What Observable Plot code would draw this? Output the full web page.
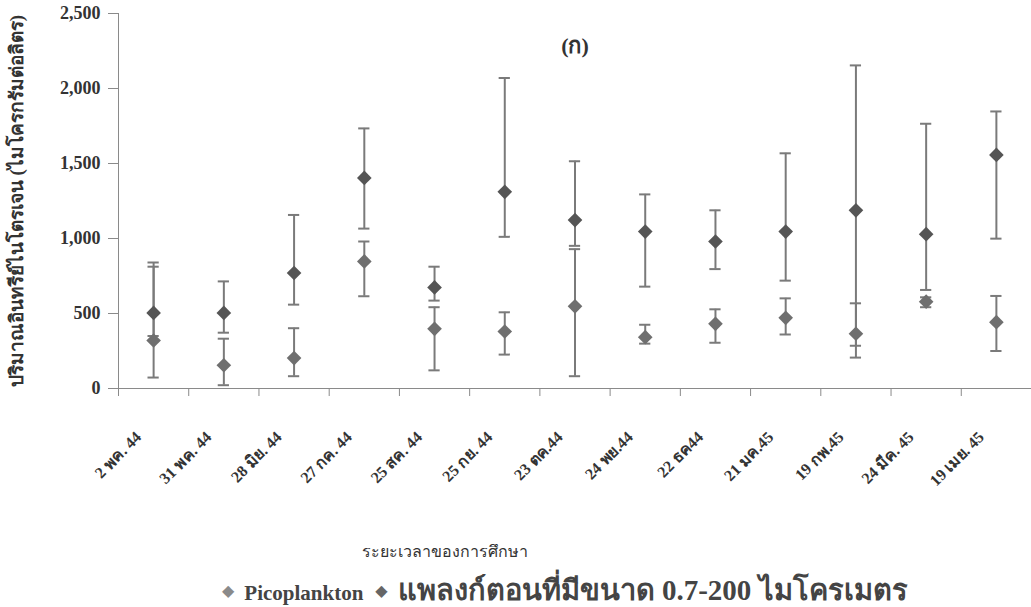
<!DOCTYPE html>
<html>
<head>
<meta charset="utf-8">
<script src="https://cdn.jsdelivr.net/npm/d3@7"></script>
<script src="https://cdn.jsdelivr.net/npm/@observablehq/plot@0.6"></script>
<style>
  html, body { margin: 0; padding: 0; background: #fff; }
  body { width: 1031px; height: 607px; overflow: hidden; font-family: "Liberation Serif", "DejaVu Serif", serif; position: relative; }
  #legend { position: absolute; left: 222px; top: 575px; height: 32px; line-height: 30px; white-space: nowrap; font-weight: bold; color: #444; display: flex; align-items: baseline; }
  #legend span.sw { display: inline-block; font-size: 16px; margin: 0 10px 0 0; position: relative; top: -4px; }
  #legend span.item { margin-right: 12px; }
  #legend .lat { font-size: 21px; }
  #legend .th { font-size: 29px; }
</style>
</head>
<body>
<div id="chart"></div>
<div id="legend"></div>
<script>
const dates = ["2 พค. 44","31 พค. 44","28 มิย. 44","27 กค. 44","25 สค. 44","25 กย. 44","23 ตค.44","24 พย.44","22 ธค44","21 มค.45","19 กพ.45","24 มีค. 45","19 เมย. 45"];
const picoMean = [320,155,203,847,398,380,548,342,431,471,365,579,442];
const picoLow  = [73,22,82,615,121,226,82,299,305,360,285,542,250];
const picoHigh = [812,332,402,980,542,508,929,425,528,601,568,608,617];
const bigMean  = [504,504,770,1404,674,1311,1123,1046,980,1046,1188,1029,1557];
const bigLow   = [350,372,559,1066,586,1011,951,679,796,719,206,657,999];
const bigHigh  = [840,714,1157,1734,812,2070,1515,1294,1188,1568,2154,1765,1847];
const yTicks = [0,500,1000,1500,2000,2500];
const seriesNames = ["Picoplankton", "แพลงก์ตอนที่มีขนาด 0.7-200 ไมโครเมตร"];
const title = "(ก)";
const yTitle = "ปริมาณอินทรีย์ไนโตรเจน (ไมโครกรัมต่อลิตร)";
const xTitle = "ระยะเวลาของการศึกษา";

const colors = {pico: "#6f6f6f", big: "#555555", bar: "#7a7a7a", axis: "#8a8a8a", text: "#333"};

const rows = [];
dates.forEach((d, i) => {
  rows.push({i, series: "pico", mean: picoMean[i], low: picoLow[i], high: picoHigh[i]});
  rows.push({i, series: "big", mean: bigMean[i], low: bigLow[i], high: bigHigh[i]});
});
const idx = dates.map((d, i) => i);
const bounds = [-0.5, ...idx.map(i => i + 0.5)];
const capHalf = 0.08;

const fontFam = "'Liberation Serif', 'DejaVu Serif', serif";

const plot = Plot.plot({
  width: 1031,
  height: 565,
  marginTop: 13,
  marginLeft: 118,
  marginRight: 0,
  marginBottom: 177,
  style: {fontFamily: fontFam, background: "white", overflow: "visible"},
  x: {domain: [-0.5, 12.5]},
  y: {domain: [0, 2500]},
  marks: [
    Plot.axisY({ticks: yTicks, tickFormat: d3.format(","), tickSize: 10, tickPadding: 8, stroke: colors.axis, fill: colors.text, fontSize: 18, fontWeight: "bold", label: null}),
    Plot.text([yTitle], {frameAnchor: "left", textAnchor: "middle", dx: -102, rotate: -90, fontSize: 19, fontWeight: "bold", fill: colors.text}),
    Plot.axisX({ticks: idx, tickFormat: i => dates[i], tickSize: 0, tickPadding: 46, dx: -15, tickRotate: -45, fontSize: 16, fontWeight: "bold", fill: colors.text, label: null}),
    Plot.axisX(bounds, {tickSize: 8, tickFormat: () => "", stroke: colors.axis, label: null}),
    Plot.ruleY([0], {stroke: colors.axis}),
    Plot.ruleX([-0.5], {stroke: colors.axis}),
    Plot.text([title], {frameAnchor: "top", dy: 24, fontSize: 22, fontWeight: "bold", fill: colors.text}),
    Plot.text([xTitle], {frameAnchor: "bottom", dy: 168, dx: -130, fontSize: 16, fill: colors.text}),
    Plot.ruleX(rows, {x: "i", y1: "low", y2: "high", stroke: colors.bar, strokeWidth: 2}),
    Plot.ruleY(rows, {y: "high", x1: d => d.i - capHalf, x2: d => d.i + capHalf, stroke: colors.bar, strokeWidth: 2}),
    Plot.ruleY(rows, {y: "low", x1: d => d.i - capHalf, x2: d => d.i + capHalf, stroke: colors.bar, strokeWidth: 2}),
    Plot.dot(rows, {x: "i", y: "mean", symbol: "diamond2", r: 6.6, fill: d => d.series === "pico" ? colors.pico : colors.big, stroke: "none"})
  ]
});
document.getElementById("chart").appendChild(plot);

const legend = document.getElementById("legend");
legend.innerHTML = `<span class="item lat"><span class="sw" style="color:#8a8a8a">◆</span>${seriesNames[0]}</span><span class="item th"><span class="sw" style="color:#666">◆</span>${seriesNames[1]}</span>`;
</script>
</body>
</html>
